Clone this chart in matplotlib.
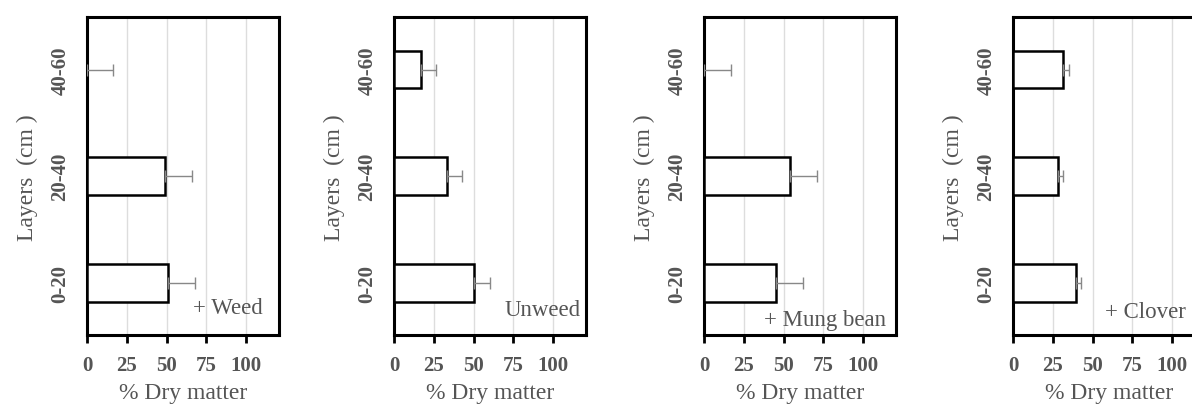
import matplotlib.pyplot as plt
import numpy as np

layers = ['0-20', '20-40', '40-60']
weed = [51, 49, 0]
weed_err = [17, 17, 16.5]
unweed = [50.5, 33.5, 16.8]
unweed_err = [9.8, 9.4, 9.4]
mung = [45.2, 54, 0]
mung_err = [17.1, 17.1, 16.7]
clover = [39.7, 28.3, 31.2]
clover_err = [3.3, 3.3, 4.0]
labels = ['+ Weed', 'Unweed', '+ Mung bean', '+ Clover']

plt.rcParams['font.family'] = 'Liberation Serif'
fig = plt.figure(figsize=(11.92, 4.06), dpi=100)

series = [(weed, weed_err), (unweed, unweed_err), (mung, mung_err), (clover, clover_err)]
lefts = [0.073, 0.3305, 0.5906, 0.8498]
txt_pos = [(0.917, 0.088, 'right'), (0.975, 0.082, 'right'), (0.95, 0.05, 'right'), (0.48, 0.075, 'left')]
y = np.arange(len(layers))

for i in range(4):
    ax = fig.add_axes([lefts[i], 0.172, 0.161, 0.783])
    vals, errs = series[i]
    ax.barh(y, vals, height=0.355, color='white', edgecolor='black', linewidth=1.8, zorder=3)
    ax.errorbar(vals, y, xerr=[np.zeros(3), errs], fmt='none', ecolor='#888888',
                elinewidth=1, capsize=4, capthick=1, zorder=4)
    ax.set_xlim(0, 120.5)
    ax.set_ylim(-0.49, 2.49)
    ax.set_xticks([0, 25, 50, 75, 100])
    ax.set_yticks(y)
    ax.set_yticklabels(layers, rotation=90, va='center', fontweight='bold')
    ax.tick_params(axis='y', length=0, pad=12, labelsize=15, labelcolor='#555555')
    ax.tick_params(axis='x', length=6, width=2, direction='out', pad=8, labelsize=15,
                   labelcolor='#555555')
    for lab in ax.get_xticklabels():
        lab.set_fontweight('bold')
    ax.grid(axis='x', color='#dddddd', linewidth=1, zorder=0)
    for s in ax.spines.values():
        s.set_linewidth(2.2)
    ax.set_xlabel('% Dry matter', fontsize=17, color='#555555', labelpad=5)
    ax.set_ylabel('Layers  (cm )', fontsize=17, color='#555555', labelpad=9)
    tx, ty, ha = txt_pos[i]
    ax.text(tx, ty, labels[i], transform=ax.transAxes, ha=ha, va='center',
            fontsize=16.5, color='#555555')

fig.savefig('out.png', dpi=100)
